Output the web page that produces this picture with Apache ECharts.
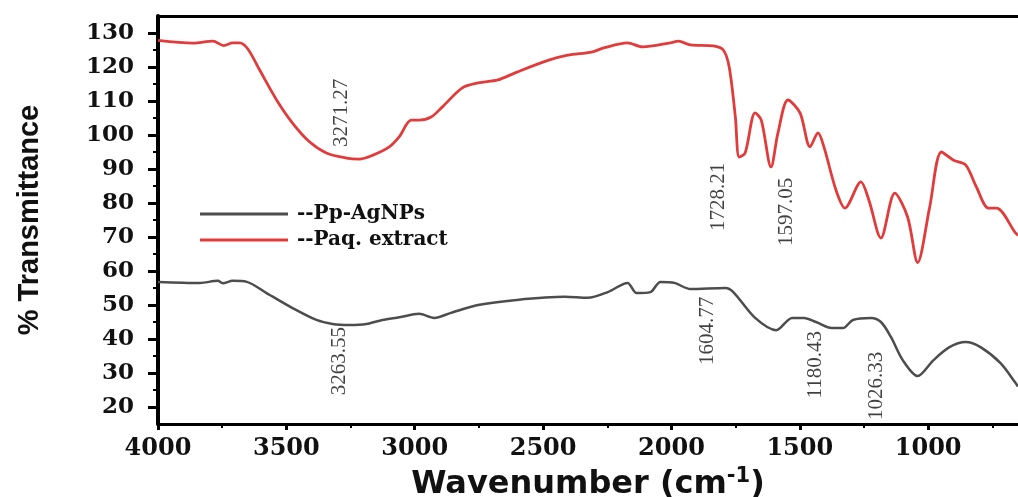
<!DOCTYPE html>
<html><head><meta charset="utf-8">
<script src="https://cdn.jsdelivr.net/npm/echarts@6/dist/echarts.min.js"></script>
<style>html,body{margin:0;padding:0;background:#fff}#c{width:1018px;height:497px}</style>
</head><body><div id="c"></div>
<script>
// Paq. extract (red)
const extractWavenumber = [4000,3864,3786,3744,3709,3682,3650,3604,3538,3476,3410,3344,3266,3216,3165,3099,3060,3014,2983,2936,2893,2816,2753,2676,2602,2478,2404,2311,2264,2171,2113,2004,1973,1926,1837,1798,1775,1751,1736,1713,1674,1650,1612,1585,1546,1499,1460,1429,1406,1359,1324,1262,1231,1184,1130,1080,1041,994,948,901,854,812,765,734,660,650];
const extractTransmittance = [127.8,127,127.6,126.3,127.1,127.1,125.3,119.1,110.3,103.5,98,94.7,93.2,92.9,94,96.5,99.5,104.4,104.4,105.3,108.2,113.8,115.3,116.2,118.5,122,123.5,124.4,125.6,127.1,125.9,127.1,127.6,126.5,126.2,125,120,105.3,93.5,94.7,106.5,104.4,90.6,100.6,110.3,106.5,96.5,100.6,96.5,83.8,78.5,86.2,80.9,69.7,82.9,75.9,62.5,78.8,95,92.6,91.2,84.7,78.5,78.5,71.2,70.5];
// Pp-AgNPs (grey)
const agnpWavenumber = [4000,3837,3767,3748,3709,3654,3577,3476,3383,3320,3254,3188,3126,3060,2983,2924,2862,2753,2602,2416,2326,2248,2171,2136,2082,2043,1988,1926,1790,1759,1674,1592,1530,1483,1437,1375,1332,1293,1223,1184,1145,1099,1041,979,917,854,796,718,660,650];
const agnpTransmittance = [56.8,56.5,57.1,56.4,57.1,56.8,53.5,49.1,45.6,44.4,44.1,44.4,45.6,46.4,47.4,46.2,47.6,50,51.5,52.4,52.1,53.8,56.5,53.5,53.8,56.8,56.5,54.7,55,53.8,46.2,42.6,46.2,46.2,45,43.2,43.2,45.6,46.2,45,40.6,33.8,29.1,33.8,37.6,39.1,37.6,32.9,27.1,26];
// Peak annotations (label, anchor wavenumber, anchor transmittance)
const peakLabels = ['3271.27','1728.21','1597.05','3263.55','1604.77','1180.43','1026.33'];
const peakX = [3285,1817,1553,3293,1860,1437,1200];
const peakY = [106.5,81.8,77.4,33.5,42.4,32.4,26.2];
// Axis ticks
const xMajorTicks = [4000,3500,3000,2500,2000,1500,1000];
const xMinorTicks = [3750,3250,2750,2250,1750,1250,750];
const yMajorTicks = [20,30,40,50,60,70,80,90,100,110,120,130];
const yMinorTicks = [25,35,45,55,65,75,85,95,105,115,125];
const seriesNames = ['--Pp-AgNPs','--Paq. extract'];

const X_MIN = 650, X_MAX = 4000, Y_MIN = 15, Y_MAX = 135;
const serifB = {fontFamily:'DejaVu Serif', fontWeight:'bold', color:'#111'};

const chart = echarts.init(document.getElementById('c'), null, {renderer:'canvas'});
chart.setOption({
  animation:false,
  backgroundColor:'#fff',
  grid:{left:158, right:0, top:16, bottom:73, containLabel:false, outerBoundsMode:'none'},
  legend:{
    data:seriesNames, orient:'vertical', left:195, top:199,
    icon:'rect', itemWidth:88, itemHeight:3, itemGap:6,
    textStyle:{fontFamily:'DejaVu Serif', fontWeight:'bold', fontSize:20, color:'#111', padding:[0,0,0,4]}
  },
  xAxis:[
    {type:'value', position:'bottom', inverse:true, min:X_MIN, max:X_MAX,
     name:'{a|Wavenumber (cm}{s|-1}{a|)}', nameLocation:'middle', nameGap:41,
     nameTextStyle:{rich:{
       a:{fontFamily:'DejaVu Sans', fontWeight:'bold', fontSize:32, color:'#111', verticalAlign:'bottom'},
       s:{fontFamily:'DejaVu Sans', fontWeight:'bold', fontSize:21, color:'#111', verticalAlign:'bottom', padding:[0,0,14,0]}
     }},
     axisLine:{show:true, onZero:false, lineStyle:{color:'#000', width:3}},
     axisTick:{show:true, length:6, lineStyle:{color:'#000', width:3}, customValues:xMajorTicks},
     axisLabel:Object.assign({fontSize:24, margin:13, customValues:xMajorTicks, formatter:v=>String(v)}, serifB),
     splitLine:{show:false}},
    {type:'value', position:'bottom', inverse:true, min:X_MIN, max:X_MAX,
     axisLine:{show:false, onZero:false},
     axisTick:{show:true, length:4, lineStyle:{color:'#000', width:2}, customValues:xMinorTicks},
     axisLabel:{show:false}, splitLine:{show:false}},
    {type:'value', position:'top', inverse:true, min:X_MIN, max:X_MAX,
     axisLine:{show:true, onZero:false, lineStyle:{color:'#000', width:3}},
     axisTick:{show:false}, axisLabel:{show:false}, splitLine:{show:false}}
  ],
  yAxis:[
    {type:'value', position:'left', min:Y_MIN, max:Y_MAX,
     name:'% Transmittance', nameLocation:'middle', nameGap:114, nameRotate:90,
     nameTextStyle:{fontFamily:'Liberation Sans', fontWeight:'bold', fontSize:29, color:'#111'},
     axisLine:{show:true, onZero:false, lineStyle:{color:'#000', width:4}},
     axisTick:{show:true, length:10, lineStyle:{color:'#000', width:3}, customValues:yMajorTicks},
     axisLabel:Object.assign({fontSize:23, margin:24, customValues:yMajorTicks, formatter:v=>String(v)}, serifB),
     splitLine:{show:false}},
    {type:'value', position:'left', min:Y_MIN, max:Y_MAX,
     axisLine:{show:false, onZero:false},
     axisTick:{show:true, length:5, lineStyle:{color:'#000', width:2}, customValues:yMinorTicks},
     axisLabel:{show:false}, splitLine:{show:false}}
  ],
  series:[
    {name:seriesNames[0], type:'line', xAxisIndex:0, yAxisIndex:0,
     data:agnpWavenumber.map((x,i)=>[x, agnpTransmittance[i]]),
     showSymbol:false, symbol:'none', smooth:0.3,
     lineStyle:{color:'#4d4d4d', width:2.5}, itemStyle:{color:'#4d4d4d'}},
    {name:seriesNames[1], type:'line', xAxisIndex:0, yAxisIndex:0,
     data:extractWavenumber.map((x,i)=>[x, extractTransmittance[i]]),
     showSymbol:false, symbol:'none', smooth:0.3,
     lineStyle:{color:'#e23b3b', width:2.8}, itemStyle:{color:'#e23b3b'}},
    {name:'peaks', type:'scatter', xAxisIndex:0, yAxisIndex:0,
     data:peakX.map((x,i)=>[x, peakY[i], peakLabels[i]]),
     symbolSize:0, silent:true,
     label:{show:true, position:'inside', rotate:90,
       formatter:p=>p.value[2],
       fontFamily:'Liberation Serif', fontSize:21, color:'#111'}}
  ]
});
</script>
</body></html>
